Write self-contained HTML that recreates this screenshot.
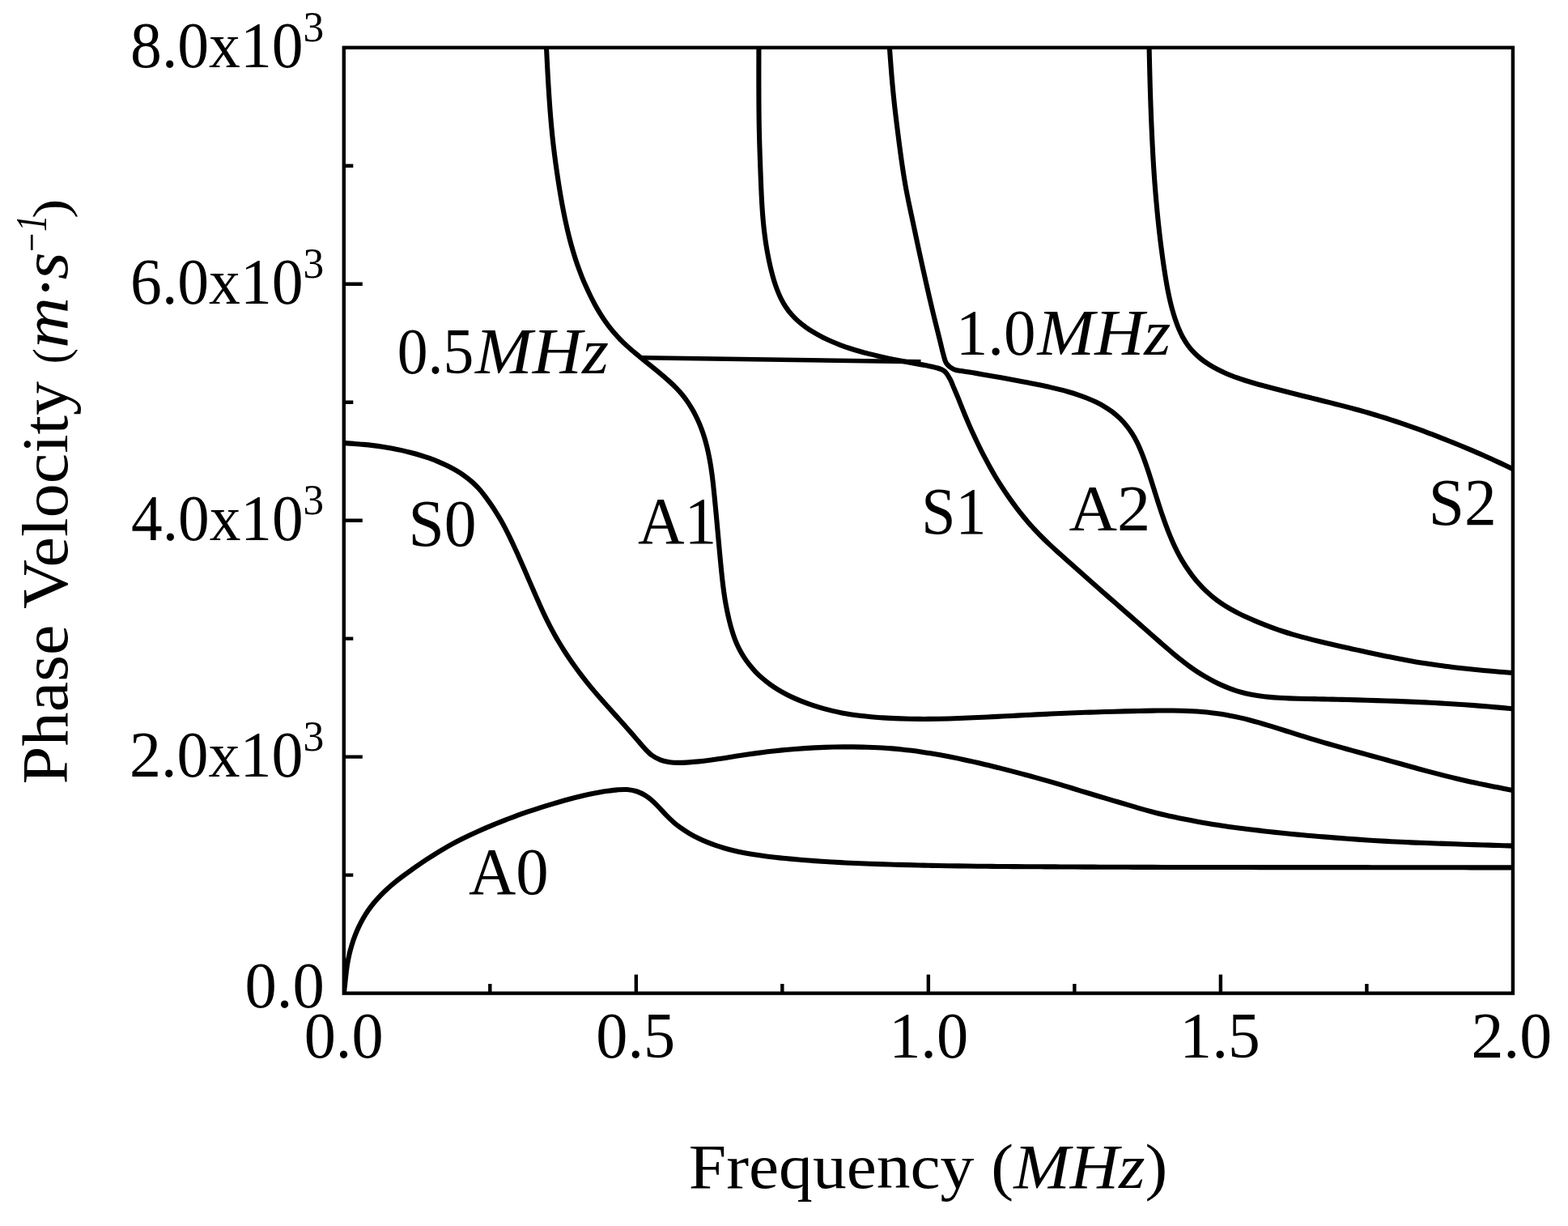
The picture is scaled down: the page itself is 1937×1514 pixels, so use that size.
<!DOCTYPE html>
<html lang="en">
<head>
<meta charset="utf-8">
<title>Phase velocity dispersion curves</title>
<style>
html,body{margin:0;padding:0;background:#fff;}
body{width:1937px;height:1514px;overflow:hidden;}
svg{display:block;}
text{font-family:'Liberation Serif', 'DejaVu Serif', serif;font-size:80px;fill:#000;white-space:pre;}
</style>
</head>
<body>
<svg width="1937" height="1514" viewBox="0 0 1937 1514">
<rect x="0" y="0" width="1937" height="1514" fill="#fff"/>
<defs><clipPath id="plot"><rect x="424.8" y="58.8" width="1444.1" height="1167.8"/></clipPath></defs>
<g clip-path="url(#plot)" fill="none" stroke="#000" stroke-width="6.1" stroke-linejoin="round" stroke-linecap="butt">
<path d="M424.9 1226.6C425.34 1222.61 425.78 1218.63 426.21 1214.64C426.65 1210.66 427.04 1206.67 427.52 1202.69C428 1198.71 428.46 1194.72 429.1 1190.77C429.75 1186.81 430.49 1182.86 431.39 1178.96C432.29 1175.06 433.32 1171.17 434.49 1167.34C435.65 1163.51 436.94 1159.7 438.37 1155.96C439.79 1152.22 441.34 1148.5 443.04 1144.88C444.74 1141.25 446.58 1137.68 448.57 1134.21C450.57 1130.73 452.71 1127.33 454.99 1124.04C457.27 1120.75 459.71 1117.54 462.26 1114.46C464.81 1111.37 467.51 1108.39 470.29 1105.51C473.07 1102.62 475.98 1099.85 478.94 1097.16C481.91 1094.47 484.98 1091.88 488.09 1089.35C491.19 1086.82 494.38 1084.38 497.59 1081.97C500.79 1079.57 504.06 1077.23 507.32 1074.91C510.59 1072.59 513.88 1070.29 517.19 1068.03C520.49 1065.76 523.81 1063.51 527.16 1061.3C530.51 1059.1 533.87 1056.92 537.28 1054.8C540.68 1052.68 544.1 1050.59 547.56 1048.57C551.02 1046.54 554.51 1044.57 558.04 1042.66C561.56 1040.74 565.12 1038.89 568.69 1037.08C572.27 1035.27 575.87 1033.51 579.49 1031.79C583.11 1030.07 586.75 1028.39 590.41 1026.74C594.06 1025.09 597.73 1023.48 601.42 1021.9C605.1 1020.32 608.8 1018.77 612.51 1017.25C616.22 1015.74 619.95 1014.25 623.68 1012.8C627.42 1011.35 631.17 1009.92 634.93 1008.53C638.69 1007.14 642.46 1005.79 646.25 1004.46C650.03 1003.13 653.82 1001.83 657.63 1000.57C661.43 999.3 665.25 998.07 669.07 996.87C672.89 995.66 676.73 994.49 680.57 993.34C684.41 992.19 688.26 991.07 692.12 989.98C695.97 988.88 699.84 987.81 703.71 986.78C707.59 985.76 711.47 984.75 715.37 983.81C719.26 982.86 723.16 981.94 727.08 981.09C731 980.24 734.93 979.43 738.87 978.7C742.81 977.98 746.77 977.3 750.73 976.74C754.7 976.18 758.68 975.62 762.68 975.34C766.67 975.06 770.72 974.74 774.69 975.06C778.66 975.39 782.71 976.04 786.48 977.27C790.25 978.5 793.92 980.35 797.3 982.44C800.69 984.53 803.78 987.18 806.78 989.82C809.78 992.47 812.5 995.44 815.29 998.32C818.07 1001.21 820.65 1004.28 823.47 1007.14C826.28 1009.99 829.12 1012.84 832.15 1015.45C835.18 1018.07 838.37 1020.52 841.64 1022.84C844.9 1025.15 848.29 1027.31 851.74 1029.35C855.19 1031.38 858.74 1033.28 862.34 1035.04C865.93 1036.81 869.61 1038.42 873.32 1039.94C877.03 1041.46 880.79 1042.84 884.59 1044.14C888.38 1045.44 892.21 1046.62 896.07 1047.72C899.92 1048.82 903.81 1049.81 907.71 1050.73C911.61 1051.66 915.54 1052.48 919.47 1053.25C923.41 1054.02 927.36 1054.7 931.32 1055.33C935.27 1055.97 939.25 1056.53 943.22 1057.06C947.19 1057.59 951.17 1058.06 955.16 1058.52C959.14 1058.97 963.13 1059.38 967.12 1059.78C971.11 1060.18 975.1 1060.55 979.09 1060.91C983.09 1061.27 987.08 1061.61 991.08 1061.93C995.07 1062.25 999.07 1062.56 1003.07 1062.86C1007.07 1063.15 1011.07 1063.43 1015.07 1063.7C1019.07 1063.97 1023.07 1064.22 1027.07 1064.46C1031.07 1064.7 1035.07 1064.93 1039.08 1065.14C1043.08 1065.36 1047.09 1065.56 1051.09 1065.74C1055.09 1065.93 1059.1 1066.1 1063.11 1066.27C1067.11 1066.43 1071.12 1066.58 1075.13 1066.73C1079.13 1066.87 1083.14 1067 1087.15 1067.13C1091.15 1067.26 1095.16 1067.38 1099.17 1067.5C1103.18 1067.62 1107.18 1067.73 1111.19 1067.84C1115.2 1067.95 1119.21 1068.06 1123.21 1068.17C1127.22 1068.27 1131.23 1068.37 1135.24 1068.47C1139.25 1068.57 1143.25 1068.66 1147.26 1068.75C1151.27 1068.83 1155.28 1068.92 1159.29 1068.99C1163.29 1069.07 1167.3 1069.14 1171.31 1069.21C1175.32 1069.27 1179.33 1069.33 1183.34 1069.39C1187.35 1069.45 1191.36 1069.5 1195.36 1069.55C1199.37 1069.6 1203.38 1069.65 1207.39 1069.69C1211.4 1069.74 1215.41 1069.78 1219.42 1069.82C1223.43 1069.86 1227.44 1069.89 1231.45 1069.93C1235.45 1069.96 1239.46 1069.99 1243.47 1070.02C1247.48 1070.06 1251.49 1070.08 1255.5 1070.11C1259.51 1070.14 1263.52 1070.17 1267.53 1070.19C1271.54 1070.22 1275.54 1070.24 1279.55 1070.27C1283.56 1070.29 1287.57 1070.31 1291.58 1070.34C1295.59 1070.36 1299.6 1070.38 1303.61 1070.4C1307.62 1070.42 1311.63 1070.45 1315.64 1070.47C1319.64 1070.49 1323.65 1070.51 1327.66 1070.53C1331.67 1070.55 1335.68 1070.57 1339.69 1070.59C1343.7 1070.61 1347.71 1070.63 1351.72 1070.65C1355.73 1070.67 1359.74 1070.68 1363.75 1070.7C1367.75 1070.72 1371.76 1070.74 1375.77 1070.75C1379.78 1070.77 1383.79 1070.78 1387.8 1070.8C1391.81 1070.81 1395.82 1070.83 1399.83 1070.84C1403.84 1070.85 1407.85 1070.86 1411.86 1070.88C1415.86 1070.89 1419.87 1070.9 1423.88 1070.91C1427.89 1070.92 1431.9 1070.93 1435.91 1070.94C1439.92 1070.94 1443.93 1070.95 1447.94 1070.96C1451.95 1070.97 1455.96 1070.98 1459.96 1070.98C1463.97 1070.99 1467.98 1071 1471.99 1071C1476 1071.01 1480.01 1071.01 1484.02 1071.02C1488.03 1071.02 1492.04 1071.03 1496.05 1071.03C1500.06 1071.03 1504.07 1071.04 1508.07 1071.04C1512.08 1071.05 1516.09 1071.05 1520.1 1071.05C1524.11 1071.06 1528.12 1071.06 1532.13 1071.06C1536.14 1071.06 1540.15 1071.07 1544.16 1071.07C1548.17 1071.07 1552.18 1071.07 1556.18 1071.08C1560.19 1071.08 1564.2 1071.08 1568.21 1071.08C1572.22 1071.08 1576.23 1071.09 1580.24 1071.09C1584.25 1071.09 1588.26 1071.09 1592.27 1071.1C1596.28 1071.1 1600.29 1071.1 1604.29 1071.1C1608.3 1071.11 1612.31 1071.11 1616.32 1071.11C1620.33 1071.11 1624.34 1071.12 1628.35 1071.12C1632.36 1071.12 1636.37 1071.13 1640.38 1071.13C1644.39 1071.13 1648.4 1071.14 1652.41 1071.14C1656.41 1071.14 1660.42 1071.15 1664.43 1071.15C1668.44 1071.16 1672.45 1071.16 1676.46 1071.16C1680.47 1071.17 1684.48 1071.17 1688.49 1071.17C1692.5 1071.18 1696.51 1071.18 1700.52 1071.19C1704.52 1071.19 1708.53 1071.2 1712.54 1071.2C1716.55 1071.21 1720.56 1071.21 1724.57 1071.21C1728.58 1071.22 1732.59 1071.22 1736.6 1071.23C1740.61 1071.23 1744.62 1071.24 1748.63 1071.24C1752.63 1071.25 1756.64 1071.25 1760.65 1071.26C1764.66 1071.26 1768.67 1071.27 1772.68 1071.27C1776.69 1071.28 1780.7 1071.28 1784.71 1071.29C1788.72 1071.29 1792.73 1071.3 1796.74 1071.3C1800.74 1071.31 1804.75 1071.31 1808.76 1071.32C1812.77 1071.32 1816.78 1071.33 1820.79 1071.34C1824.8 1071.34 1828.81 1071.35 1832.82 1071.35C1836.83 1071.36 1840.84 1071.36 1844.85 1071.37C1848.85 1071.37 1852.86 1071.38 1856.87 1071.38C1860.88 1071.39 1864.89 1071.39 1868.9 1071.4"/>
<path d="M424.8 547.1C428.79 547.37 432.78 547.62 436.77 547.91C440.75 548.21 444.74 548.51 448.72 548.88C452.7 549.25 456.68 549.66 460.65 550.14C464.62 550.61 468.59 551.14 472.54 551.74C476.49 552.34 480.44 553.01 484.37 553.74C488.3 554.47 492.22 555.27 496.12 556.14C500.02 557.01 503.91 557.94 507.78 558.95C511.65 559.96 515.5 561.04 519.32 562.21C523.14 563.38 526.94 564.63 530.71 565.98C534.47 567.33 538.21 568.77 541.89 570.32C545.57 571.87 549.23 573.5 552.81 575.27C556.39 577.04 559.94 578.91 563.38 580.94C566.82 582.97 570.21 585.12 573.45 587.45C576.7 589.77 579.86 592.25 582.85 594.89C585.84 597.53 588.7 600.35 591.4 603.3C594.1 606.24 596.61 609.37 599.04 612.54C601.47 615.71 603.73 619.02 605.99 622.31C608.25 625.61 610.49 628.93 612.62 632.31C614.76 635.69 616.81 639.12 618.8 642.59C620.78 646.06 622.67 649.59 624.52 653.13C626.38 656.67 628.16 660.25 629.92 663.84C631.67 667.43 633.37 671.05 635.05 674.68C636.73 678.31 638.37 681.96 640 685.61C641.63 689.26 643.24 692.92 644.84 696.58C646.45 700.25 648.04 703.92 649.63 707.58C651.22 711.25 652.81 714.92 654.4 718.59C655.99 722.26 657.58 725.93 659.18 729.59C660.77 733.26 662.36 736.93 663.98 740.59C665.59 744.24 667.21 747.9 668.87 751.53C670.54 755.17 672.23 758.79 673.98 762.39C675.72 765.99 677.52 769.56 679.36 773.11C681.21 776.65 683.1 780.18 685.05 783.67C687 787.16 689 790.62 691.06 794.05C693.11 797.48 695.23 800.88 697.38 804.24C699.54 807.61 701.75 810.94 704.01 814.24C706.26 817.54 708.56 820.81 710.9 824.05C713.25 827.29 715.63 830.5 718.05 833.68C720.48 836.86 722.94 840.02 725.44 843.13C727.95 846.25 730.5 849.33 733.07 852.39C735.65 855.45 738.27 858.47 740.9 861.48C743.53 864.49 746.19 867.47 748.85 870.46C751.51 873.44 754.2 876.41 756.87 879.38C759.54 882.35 762.23 885.32 764.9 888.29C767.57 891.27 770.24 894.24 772.9 897.23C775.55 900.22 778.2 903.22 780.81 906.24C783.43 909.27 785.98 912.35 788.6 915.37C791.21 918.39 793.74 921.51 796.51 924.38C799.28 927.26 802.01 930.28 805.21 932.62C808.4 934.96 811.99 936.98 815.66 938.41C819.35 939.84 823.37 940.63 827.3 941.21C831.24 941.78 835.28 941.82 839.27 941.85C843.27 941.87 847.27 941.61 851.26 941.35C855.24 941.1 859.23 940.73 863.21 940.34C867.19 939.94 871.16 939.49 875.13 938.99C879.09 938.5 883.05 937.93 887.01 937.35C890.96 936.77 894.91 936.12 898.86 935.49C902.81 934.87 906.75 934.21 910.7 933.59C914.65 932.97 918.6 932.37 922.56 931.79C926.52 931.21 930.48 930.65 934.44 930.11C938.4 929.58 942.37 929.07 946.34 928.58C950.3 928.1 954.28 927.64 958.25 927.21C962.23 926.78 966.2 926.37 970.18 926C974.17 925.62 978.15 925.27 982.13 924.96C986.12 924.64 990.11 924.35 994.1 924.09C998.09 923.83 1002.08 923.59 1006.07 923.39C1010.07 923.19 1014.06 923.02 1018.06 922.88C1022.05 922.73 1026.05 922.62 1030.05 922.53C1034.04 922.45 1038.04 922.4 1042.04 922.37C1046.04 922.35 1050.04 922.35 1054.04 922.39C1058.03 922.42 1062.03 922.48 1066.03 922.58C1070.03 922.67 1074.02 922.8 1078.02 922.96C1082.01 923.12 1086.01 923.31 1090 923.55C1093.99 923.79 1097.98 924.06 1101.97 924.38C1105.95 924.7 1109.93 925.06 1113.91 925.46C1117.89 925.87 1121.86 926.32 1125.83 926.81C1129.8 927.3 1133.76 927.83 1137.72 928.4C1141.68 928.97 1145.63 929.58 1149.57 930.23C1153.52 930.87 1157.46 931.55 1161.39 932.26C1165.33 932.97 1169.26 933.72 1173.18 934.49C1177.1 935.26 1181.02 936.06 1184.94 936.88C1188.85 937.71 1192.75 938.56 1196.66 939.42C1200.56 940.29 1204.46 941.18 1208.35 942.08C1212.25 942.99 1216.14 943.91 1220.03 944.84C1223.92 945.78 1227.8 946.73 1231.68 947.69C1235.56 948.66 1239.44 949.64 1243.31 950.63C1247.18 951.62 1251.05 952.62 1254.92 953.64C1258.79 954.65 1262.65 955.68 1266.51 956.72C1270.38 957.76 1274.23 958.81 1278.09 959.87C1281.94 960.93 1285.79 962.01 1289.64 963.1C1293.49 964.19 1297.33 965.29 1301.17 966.41C1305.01 967.53 1308.84 968.67 1312.67 969.81C1316.5 970.96 1320.33 972.13 1324.15 973.29C1327.98 974.46 1331.8 975.64 1335.62 976.8C1339.45 977.97 1343.27 979.13 1347.1 980.29C1350.93 981.44 1354.76 982.59 1358.59 983.73C1362.42 984.87 1366.26 986 1370.09 987.14C1373.92 988.27 1377.76 989.4 1381.59 990.53C1385.43 991.67 1389.26 992.81 1393.09 993.94C1396.93 995.08 1400.76 996.22 1404.6 997.33C1408.44 998.44 1412.28 999.55 1416.14 1000.61C1420 1001.67 1423.86 1002.7 1427.73 1003.68C1431.61 1004.66 1435.5 1005.59 1439.39 1006.49C1443.29 1007.4 1447.2 1008.25 1451.11 1009.09C1455.02 1009.92 1458.93 1010.72 1462.85 1011.51C1466.77 1012.29 1470.7 1013.06 1474.63 1013.8C1478.56 1014.54 1482.49 1015.27 1486.43 1015.96C1490.36 1016.65 1494.31 1017.33 1498.25 1017.97C1502.2 1018.61 1506.15 1019.22 1510.11 1019.8C1514.06 1020.39 1518.02 1020.95 1521.98 1021.49C1525.94 1022.03 1529.91 1022.54 1533.88 1023.05C1537.84 1023.55 1541.81 1024.03 1545.78 1024.51C1549.75 1024.99 1553.72 1025.45 1557.7 1025.9C1561.67 1026.36 1565.64 1026.8 1569.62 1027.24C1573.59 1027.67 1577.57 1028.09 1581.54 1028.51C1585.52 1028.92 1589.5 1029.32 1593.48 1029.71C1597.46 1030.1 1601.44 1030.48 1605.42 1030.85C1609.4 1031.22 1613.38 1031.57 1617.37 1031.92C1621.35 1032.27 1625.33 1032.61 1629.32 1032.94C1633.3 1033.27 1637.29 1033.6 1641.27 1033.91C1645.26 1034.23 1649.25 1034.54 1653.23 1034.85C1657.22 1035.16 1661.21 1035.46 1665.19 1035.75C1669.18 1036.04 1673.17 1036.33 1677.16 1036.61C1681.15 1036.89 1685.14 1037.16 1689.13 1037.42C1693.12 1037.69 1697.11 1037.94 1701.1 1038.18C1705.09 1038.42 1709.08 1038.66 1713.07 1038.88C1717.06 1039.1 1721.06 1039.31 1725.05 1039.5C1729.04 1039.7 1733.04 1039.89 1737.03 1040.07C1741.03 1040.25 1745.02 1040.42 1749.02 1040.59C1753.01 1040.75 1757.01 1040.91 1761 1041.06C1765 1041.21 1768.99 1041.36 1772.99 1041.5C1776.98 1041.64 1780.98 1041.78 1784.98 1041.92C1788.97 1042.06 1792.97 1042.19 1796.97 1042.32C1800.96 1042.46 1804.96 1042.59 1808.95 1042.72C1812.95 1042.85 1816.95 1042.98 1820.94 1043.1C1824.94 1043.23 1828.94 1043.36 1832.93 1043.48C1836.93 1043.61 1840.92 1043.73 1844.92 1043.86C1848.92 1043.98 1852.91 1044.11 1856.91 1044.23C1860.91 1044.35 1864.9 1044.48 1868.9 1044.6"/>
<path d="M675 58.8C675.2 62.8 675.39 66.81 675.59 70.81C675.79 74.82 675.99 78.82 676.2 82.82C676.41 86.83 676.62 90.83 676.85 94.83C677.07 98.83 677.3 102.84 677.55 106.84C677.79 110.84 678.04 114.84 678.31 118.84C678.57 122.84 678.85 126.84 679.14 130.84C679.43 134.84 679.74 138.83 680.06 142.83C680.38 146.83 680.72 150.82 681.08 154.81C681.44 158.81 681.82 162.8 682.23 166.78C682.64 170.77 683.08 174.76 683.53 178.74C683.99 182.72 684.48 186.7 684.99 190.68C685.49 194.66 686.02 198.63 686.57 202.6C687.12 206.57 687.68 210.54 688.27 214.51C688.85 218.47 689.45 222.44 690.07 226.4C690.69 230.36 691.33 234.32 691.99 238.27C692.65 242.22 693.33 246.18 694.04 250.12C694.76 254.06 695.49 258.01 696.27 261.94C697.04 265.87 697.85 269.8 698.69 273.72C699.54 277.64 700.41 281.55 701.34 285.45C702.27 289.35 703.23 293.24 704.25 297.12C705.27 300.99 706.34 304.86 707.46 308.71C708.59 312.55 709.77 316.39 711.01 320.2C712.25 324.01 713.55 327.8 714.92 331.57C716.29 335.34 717.72 339.08 719.23 342.8C720.73 346.51 722.31 350.2 723.95 353.86C725.58 357.52 727.28 361.15 729.04 364.75C730.81 368.35 732.63 371.93 734.55 375.45C736.46 378.97 738.44 382.46 740.53 385.88C742.62 389.3 744.79 392.67 747.08 395.96C749.37 399.25 751.76 402.48 754.26 405.61C756.75 408.74 759.36 411.8 762.06 414.76C764.76 417.72 767.56 420.59 770.44 423.38C773.32 426.17 776.31 428.85 779.33 431.48C782.34 434.12 785.45 436.65 788.55 439.2C791.64 441.75 794.78 444.24 797.89 446.77C801.01 449.3 804.12 451.82 807.22 454.36C810.32 456.91 813.42 459.45 816.48 462.04C819.55 464.62 822.64 467.18 825.62 469.86C828.6 472.53 831.56 475.24 834.37 478.1C837.17 480.96 839.9 483.92 842.45 487.01C844.99 490.1 847.39 493.32 849.65 496.63C851.9 499.94 853.99 503.38 855.96 506.87C857.93 510.36 859.74 513.94 861.44 517.57C863.14 521.19 864.72 524.89 866.16 528.63C867.6 532.37 868.9 536.17 870.08 540C871.26 543.82 872.29 547.7 873.25 551.59C874.21 555.48 875.07 559.4 875.86 563.33C876.65 567.26 877.35 571.21 878 575.17C878.64 579.12 879.19 583.1 879.72 587.07C880.24 591.04 880.69 595.03 881.14 599.01C881.58 603 881.98 606.99 882.38 610.97C882.78 614.96 883.16 618.95 883.54 622.94C883.93 626.94 884.31 630.93 884.68 634.92C885.05 638.91 885.42 642.9 885.78 646.89C886.15 650.89 886.51 654.88 886.87 658.87C887.23 662.86 887.59 666.86 887.95 670.85C888.31 674.84 888.67 678.83 889.04 682.83C889.41 686.82 889.78 690.81 890.17 694.8C890.55 698.79 890.94 702.78 891.35 706.77C891.77 710.75 892.19 714.74 892.66 718.72C893.12 722.7 893.61 726.69 894.16 730.65C894.72 734.62 895.31 738.59 895.99 742.54C896.67 746.49 897.41 750.43 898.22 754.36C899.03 758.28 899.89 762.2 900.84 766.1C901.79 769.99 902.79 773.88 903.94 777.72C905.08 781.55 906.3 785.39 907.73 789.12C909.16 792.86 910.73 796.57 912.52 800.15C914.31 803.73 916.3 807.23 918.45 810.61C920.59 813.99 922.93 817.27 925.39 820.42C927.86 823.57 930.49 826.62 933.26 829.52C936.02 832.41 938.94 835.18 941.96 837.8C944.99 840.42 948.16 842.9 951.41 845.24C954.66 847.58 958.03 849.78 961.45 851.85C964.88 853.93 968.4 855.86 971.96 857.69C975.53 859.52 979.17 861.22 982.83 862.84C986.5 864.46 990.22 865.97 993.96 867.39C997.71 868.82 1001.49 870.15 1005.3 871.39C1009.11 872.64 1012.95 873.8 1016.81 874.88C1020.67 875.97 1024.55 876.97 1028.46 877.89C1032.36 878.81 1036.28 879.65 1040.21 880.41C1044.15 881.16 1048.1 881.84 1052.07 882.44C1056.03 883.05 1060.01 883.57 1063.99 884.03C1067.97 884.5 1071.96 884.89 1075.95 885.25C1079.94 885.61 1083.94 885.91 1087.94 886.18C1091.94 886.45 1095.94 886.68 1099.95 886.89C1103.95 887.09 1107.96 887.26 1111.96 887.41C1115.97 887.55 1119.98 887.67 1123.98 887.75C1127.99 887.84 1132 887.89 1136.01 887.92C1140.02 887.95 1144.03 887.94 1148.04 887.91C1152.04 887.88 1156.05 887.82 1160.06 887.74C1164.07 887.66 1168.08 887.56 1172.08 887.44C1176.09 887.32 1180.1 887.19 1184.1 887.04C1188.11 886.89 1192.12 886.73 1196.12 886.56C1200.13 886.39 1204.13 886.21 1208.14 886.03C1212.14 885.84 1216.14 885.65 1220.15 885.45C1224.15 885.26 1228.16 885.05 1232.16 884.85C1236.16 884.65 1240.17 884.45 1244.17 884.24C1248.17 884.04 1252.18 883.84 1256.18 883.63C1260.19 883.43 1264.19 883.23 1268.19 883.02C1272.2 882.82 1276.2 882.62 1280.2 882.42C1284.21 882.22 1288.21 882.03 1292.22 881.84C1296.22 881.64 1300.23 881.45 1304.23 881.27C1308.24 881.09 1312.24 880.91 1316.25 880.74C1320.25 880.57 1324.26 880.41 1328.26 880.26C1332.27 880.1 1336.27 879.96 1340.28 879.82C1344.29 879.68 1348.29 879.55 1352.3 879.43C1356.31 879.3 1360.32 879.19 1364.32 879.07C1368.33 878.96 1372.34 878.85 1376.34 878.74C1380.35 878.63 1384.36 878.52 1388.37 878.42C1392.37 878.31 1396.38 878.2 1400.39 878.1C1404.4 878.01 1408.4 877.91 1412.41 877.83C1416.42 877.75 1420.43 877.67 1424.44 877.62C1428.45 877.56 1432.45 877.52 1436.46 877.5C1440.47 877.49 1444.48 877.49 1448.49 877.53C1452.5 877.58 1456.51 877.64 1460.51 877.76C1464.52 877.88 1468.53 878.03 1472.53 878.24C1476.53 878.45 1480.54 878.71 1484.53 879.04C1488.52 879.37 1492.52 879.75 1496.5 880.22C1500.48 880.69 1504.45 881.23 1508.41 881.84C1512.37 882.46 1516.32 883.16 1520.26 883.92C1524.19 884.68 1528.12 885.51 1532.03 886.4C1535.93 887.3 1539.83 888.26 1543.71 889.26C1547.59 890.27 1551.45 891.34 1555.31 892.43C1559.16 893.53 1563.01 894.67 1566.84 895.83C1570.68 896.99 1574.51 898.18 1578.34 899.38C1582.16 900.57 1585.98 901.79 1589.81 902.99C1593.63 904.2 1597.45 905.42 1601.27 906.62C1605.1 907.82 1608.92 909.02 1612.76 910.2C1616.59 911.37 1620.43 912.53 1624.27 913.67C1628.11 914.82 1631.96 915.94 1635.81 917.06C1639.66 918.17 1643.52 919.27 1647.37 920.36C1651.23 921.46 1655.09 922.54 1658.95 923.61C1662.81 924.69 1666.68 925.76 1670.54 926.83C1674.4 927.89 1678.27 928.96 1682.14 930.02C1686 931.08 1689.87 932.14 1693.73 933.2C1697.6 934.26 1701.47 935.32 1705.33 936.38C1709.2 937.45 1713.06 938.51 1716.92 939.58C1720.79 940.65 1724.65 941.73 1728.51 942.8C1732.38 943.87 1736.24 944.94 1740.1 946.01C1743.97 947.08 1747.83 948.14 1751.7 949.19C1755.57 950.25 1759.44 951.3 1763.31 952.33C1767.19 953.36 1771.06 954.39 1774.94 955.39C1778.82 956.4 1782.71 957.39 1786.6 958.37C1790.48 959.34 1794.38 960.3 1798.28 961.23C1802.17 962.16 1806.08 963.08 1809.99 963.97C1813.9 964.86 1817.81 965.72 1821.73 966.56C1825.65 967.41 1829.57 968.23 1833.5 969.03C1837.43 969.84 1841.36 970.63 1845.29 971.41C1849.22 972.19 1853.16 972.96 1857.09 973.72C1861.03 974.49 1864.96 975.24 1868.9 976"/>
<path d="M937.4 58.8C937.39 62.81 937.39 66.82 937.38 70.83C937.38 74.84 937.37 78.85 937.37 82.86C937.37 86.87 937.36 90.88 937.36 94.89C937.37 98.9 937.37 102.91 937.37 106.92C937.38 110.93 937.39 114.95 937.4 118.96C937.42 122.97 937.44 126.98 937.47 130.99C937.5 135 937.53 139.01 937.58 143.02C937.63 147.03 937.69 151.04 937.76 155.05C937.84 159.06 937.92 163.07 938.02 167.08C938.11 171.08 938.22 175.09 938.34 179.1C938.46 183.11 938.59 187.12 938.73 191.13C938.86 195.14 939 199.14 939.15 203.15C939.29 207.16 939.44 211.17 939.59 215.17C939.74 219.18 939.89 223.19 940.05 227.2C940.22 231.2 940.38 235.21 940.57 239.22C940.76 243.22 940.96 247.23 941.19 251.23C941.43 255.23 941.69 259.24 941.99 263.24C942.29 267.23 942.62 271.23 943.01 275.22C943.39 279.21 943.81 283.2 944.3 287.18C944.78 291.17 945.31 295.14 945.9 299.11C946.5 303.07 947.15 307.03 947.86 310.98C948.57 314.92 949.35 318.86 950.19 322.78C951.02 326.7 951.9 330.62 952.88 334.51C953.86 338.39 954.88 342.28 956.05 346.11C957.22 349.94 958.47 353.76 959.92 357.5C961.36 361.24 962.91 364.95 964.7 368.53C966.49 372.11 968.45 375.64 970.66 378.98C972.86 382.31 975.3 385.54 977.94 388.54C980.58 391.54 983.49 394.35 986.49 396.99C989.5 399.63 992.71 402.07 995.98 404.39C999.24 406.71 1002.64 408.86 1006.08 410.91C1009.52 412.96 1013.06 414.88 1016.63 416.69C1020.21 418.5 1023.85 420.19 1027.53 421.79C1031.2 423.39 1034.93 424.87 1038.69 426.27C1042.44 427.68 1046.24 428.99 1050.05 430.23C1053.86 431.47 1057.71 432.62 1061.56 433.72C1065.42 434.82 1069.3 435.83 1073.19 436.83C1077.07 437.82 1080.97 438.76 1084.87 439.68C1088.78 440.6 1092.69 441.49 1096.6 442.35C1100.52 443.21 1104.44 444.05 1108.37 444.84C1112.31 445.63 1116.25 446.38 1120.19 447.11C1124.13 447.84 1128.09 448.52 1132.03 449.23C1135.98 449.93 1139.94 450.58 1143.88 451.34C1147.81 452.1 1151.84 452.61 1155.65 453.79C1159.44 454.96 1163.7 455.98 1166.69 458.37C1169.66 460.75 1171.62 464.64 1173.56 468.08C1175.52 471.55 1176.78 475.43 1178.36 479.11C1179.94 482.79 1181.53 486.48 1183.06 490.19C1184.59 493.89 1186.05 497.63 1187.55 501.35C1189.05 505.07 1190.52 508.8 1192.05 512.5C1193.59 516.21 1195.14 519.91 1196.73 523.59C1198.33 527.27 1199.95 530.93 1201.62 534.58C1203.29 538.23 1205 541.85 1206.74 545.47C1208.48 549.08 1210.26 552.68 1212.06 556.26C1213.87 559.84 1215.7 563.41 1217.57 566.95C1219.44 570.5 1221.34 574.03 1223.3 577.53C1225.25 581.04 1227.24 584.52 1229.29 587.96C1231.34 591.41 1233.44 594.83 1235.59 598.21C1237.74 601.6 1239.95 604.95 1242.2 608.27C1244.45 611.59 1246.75 614.87 1249.09 618.13C1251.43 621.38 1253.82 624.61 1256.25 627.8C1258.68 630.99 1261.15 634.15 1263.67 637.27C1266.2 640.38 1268.76 643.47 1271.4 646.49C1274.03 649.51 1276.72 652.49 1279.47 655.41C1282.21 658.33 1285.02 661.2 1287.87 664.02C1290.71 666.85 1293.62 669.62 1296.53 672.37C1299.45 675.12 1302.41 677.82 1305.38 680.52C1308.34 683.22 1311.33 685.89 1314.32 688.57C1317.31 691.24 1320.31 693.91 1323.31 696.57C1326.31 699.23 1329.31 701.89 1332.31 704.55C1335.32 707.21 1338.32 709.86 1341.33 712.52C1344.33 715.17 1347.34 717.83 1350.35 720.48C1353.36 723.13 1356.36 725.78 1359.37 728.43C1362.39 731.08 1365.4 733.73 1368.41 736.38C1371.42 739.02 1374.44 741.66 1377.46 744.31C1380.47 746.95 1383.49 749.59 1386.51 752.23C1389.53 754.87 1392.55 757.51 1395.57 760.15C1398.58 762.79 1401.6 765.43 1404.62 768.07C1407.64 770.71 1410.66 773.36 1413.67 776C1416.68 778.65 1419.7 781.3 1422.71 783.95C1425.72 786.59 1428.72 789.25 1431.74 791.89C1434.75 794.54 1437.77 797.19 1440.8 799.81C1443.84 802.43 1446.88 805.04 1449.95 807.62C1453.03 810.19 1456.12 812.75 1459.26 815.23C1462.41 817.72 1465.59 820.17 1468.83 822.53C1472.08 824.88 1475.38 827.16 1478.74 829.35C1482.1 831.53 1485.52 833.63 1488.99 835.65C1492.46 837.66 1495.97 839.6 1499.54 841.43C1503.11 843.26 1506.72 845.01 1510.39 846.62C1514.06 848.23 1517.79 849.73 1521.56 851.09C1525.33 852.44 1529.16 853.66 1533.02 854.72C1536.89 855.79 1540.8 856.69 1544.73 857.48C1548.66 858.28 1552.63 858.92 1556.59 859.48C1560.56 860.05 1564.55 860.49 1568.54 860.88C1572.53 861.27 1576.54 861.56 1580.54 861.81C1584.54 862.06 1588.55 862.24 1592.55 862.4C1596.56 862.56 1600.57 862.67 1604.58 862.77C1608.59 862.88 1612.6 862.95 1616.61 863.02C1620.62 863.1 1624.63 863.16 1628.64 863.23C1632.65 863.31 1636.66 863.38 1640.67 863.46C1644.68 863.55 1648.68 863.64 1652.69 863.73C1656.7 863.83 1660.71 863.93 1664.72 864.03C1668.73 864.14 1672.74 864.25 1676.75 864.36C1680.76 864.47 1684.77 864.59 1688.77 864.71C1692.78 864.83 1696.79 864.95 1700.8 865.08C1704.81 865.21 1708.82 865.34 1712.82 865.48C1716.83 865.62 1720.84 865.76 1724.85 865.91C1728.85 866.05 1732.86 866.21 1736.87 866.36C1740.88 866.52 1744.88 866.69 1748.89 866.87C1752.9 867.04 1756.9 867.22 1760.91 867.42C1764.91 867.61 1768.92 867.81 1772.92 868.03C1776.93 868.24 1780.93 868.47 1784.94 868.7C1788.94 868.94 1792.94 869.19 1796.94 869.45C1800.95 869.7 1804.95 869.98 1808.95 870.26C1812.95 870.54 1816.95 870.84 1820.95 871.15C1824.95 871.46 1828.94 871.78 1832.94 872.1C1836.94 872.43 1840.93 872.77 1844.93 873.11C1848.92 873.45 1852.92 873.8 1856.92 874.15C1860.91 874.49 1864.91 874.85 1868.9 875.2"/>
<path d="M1098.9 58.8C1099.19 62.8 1099.47 66.81 1099.76 70.81C1100.06 74.81 1100.35 78.81 1100.66 82.81C1100.97 86.81 1101.29 90.81 1101.62 94.81C1101.96 98.81 1102.31 102.81 1102.68 106.8C1103.06 110.8 1103.44 114.79 1103.85 118.79C1104.26 122.78 1104.68 126.77 1105.12 130.76C1105.56 134.75 1106.03 138.73 1106.5 142.72C1106.97 146.7 1107.46 150.68 1107.96 154.67C1108.46 158.65 1108.97 162.63 1109.48 166.61C1109.99 170.59 1110.5 174.57 1111.02 178.55C1111.54 182.53 1112.06 186.51 1112.6 190.48C1113.14 194.46 1113.69 198.43 1114.27 202.41C1114.84 206.38 1115.44 210.35 1116.06 214.31C1116.69 218.27 1117.33 222.23 1118.02 226.19C1118.71 230.14 1119.43 234.09 1120.18 238.03C1120.94 241.97 1121.74 245.9 1122.55 249.83C1123.36 253.77 1124.2 257.69 1125.03 261.61C1125.87 265.54 1126.72 269.46 1127.55 273.39C1128.39 277.31 1129.22 281.24 1130.05 285.16C1130.88 289.09 1131.7 293.02 1132.54 296.94C1133.37 300.87 1134.21 304.79 1135.06 308.71C1135.91 312.64 1136.77 316.56 1137.63 320.47C1138.49 324.39 1139.36 328.31 1140.24 332.23C1141.11 336.14 1141.99 340.06 1142.87 343.97C1143.75 347.89 1144.64 351.8 1145.52 355.72C1146.41 359.63 1147.3 363.54 1148.2 367.45C1149.1 371.36 1150.01 375.27 1150.93 379.18C1151.86 383.08 1152.8 386.98 1153.75 390.88C1154.7 394.78 1155.67 398.68 1156.64 402.57C1157.6 406.47 1158.58 410.36 1159.55 414.25C1160.51 418.15 1161.47 422.04 1162.43 425.94C1163.4 429.83 1164.19 433.78 1165.34 437.62C1166.5 441.45 1167.12 445.82 1169.37 448.94C1171.57 451.97 1175.1 454.6 1178.54 456.18C1182.07 457.81 1186.4 457.76 1190.35 458.45C1194.3 459.14 1198.28 459.68 1202.24 460.33C1206.2 460.99 1210.15 461.69 1214.11 462.38C1218.06 463.07 1222.01 463.78 1225.96 464.49C1229.91 465.19 1233.86 465.9 1237.81 466.62C1241.76 467.33 1245.7 468.05 1249.65 468.77C1253.6 469.5 1257.54 470.23 1261.49 470.97C1265.43 471.71 1269.37 472.46 1273.31 473.23C1277.25 474 1281.19 474.78 1285.12 475.59C1289.05 476.41 1292.97 477.23 1296.89 478.12C1300.8 479 1304.71 479.9 1308.6 480.88C1312.49 481.86 1316.38 482.89 1320.23 484.01C1324.08 485.13 1327.92 486.31 1331.72 487.6C1335.51 488.89 1339.29 490.26 1343.01 491.76C1346.73 493.26 1350.43 494.85 1354.03 496.61C1357.63 498.36 1361.2 500.23 1364.63 502.3C1368.06 504.38 1371.42 506.61 1374.6 509.04C1377.77 511.48 1380.83 514.12 1383.69 516.92C1386.55 519.72 1389.25 522.73 1391.76 525.85C1394.26 528.97 1396.59 532.27 1398.73 535.66C1400.86 539.04 1402.78 542.59 1404.58 546.17C1406.37 549.75 1407.95 553.45 1409.49 557.16C1411.03 560.86 1412.44 564.62 1413.81 568.39C1415.19 572.16 1416.48 575.96 1417.76 579.77C1419.03 583.57 1420.25 587.39 1421.47 591.22C1422.69 595.04 1423.88 598.87 1425.08 602.7C1426.28 606.53 1427.47 610.37 1428.68 614.19C1429.89 618.02 1431.1 621.84 1432.35 625.66C1433.59 629.47 1434.85 633.28 1436.16 637.07C1437.47 640.87 1438.8 644.65 1440.2 648.42C1441.59 652.18 1443.02 655.93 1444.54 659.65C1446.05 663.36 1447.61 667.06 1449.27 670.72C1450.93 674.37 1452.65 678 1454.49 681.56C1456.32 685.13 1458.24 688.66 1460.28 692.11C1462.33 695.56 1464.48 698.96 1466.74 702.27C1468.99 705.59 1471.36 708.84 1473.82 712.01C1476.28 715.17 1478.83 718.28 1481.51 721.26C1484.19 724.25 1486.99 727.14 1489.9 729.89C1492.81 732.65 1495.86 735.28 1498.98 737.79C1502.11 740.3 1505.34 742.69 1508.65 744.95C1511.96 747.22 1515.38 749.34 1518.84 751.37C1522.3 753.39 1525.85 755.28 1529.42 757.1C1533 758.92 1536.63 760.63 1540.28 762.29C1543.93 763.95 1547.63 765.53 1551.33 767.07C1555.03 768.62 1558.76 770.11 1562.5 771.57C1566.24 773.02 1569.99 774.45 1573.76 775.82C1577.53 777.18 1581.33 778.49 1585.14 779.75C1588.95 781 1592.78 782.2 1596.63 783.34C1600.47 784.49 1604.34 785.57 1608.21 786.61C1612.09 787.66 1615.98 788.65 1619.87 789.63C1623.76 790.61 1627.66 791.55 1631.56 792.49C1635.46 793.43 1639.37 794.36 1643.28 795.27C1647.18 796.18 1651.1 797.08 1655.01 797.96C1658.92 798.84 1662.84 799.71 1666.76 800.57C1670.68 801.43 1674.6 802.28 1678.53 803.12C1682.45 803.97 1686.37 804.82 1690.29 805.66C1694.22 806.51 1698.14 807.36 1702.06 808.2C1705.99 809.03 1709.91 809.87 1713.84 810.68C1717.77 811.49 1721.7 812.3 1725.64 813.07C1729.58 813.84 1733.52 814.6 1737.47 815.32C1741.42 816.04 1745.37 816.73 1749.33 817.4C1753.28 818.06 1757.25 818.69 1761.21 819.3C1765.18 819.91 1769.15 820.49 1773.12 821.05C1777.1 821.62 1781.07 822.15 1785.05 822.67C1789.03 823.19 1793.01 823.69 1797 824.17C1800.98 824.65 1804.97 825.11 1808.96 825.55C1812.95 825.99 1816.94 826.41 1820.93 826.82C1824.92 827.23 1828.91 827.62 1832.91 827.99C1836.91 828.36 1840.9 828.71 1844.9 829.06C1848.9 829.4 1852.9 829.72 1856.9 830.05C1860.9 830.37 1864.9 830.68 1868.9 831"/>
<path d="M1419.6 58.8C1419.69 62.82 1419.78 66.83 1419.87 70.85C1419.96 74.86 1420.05 78.88 1420.15 82.89C1420.24 86.91 1420.34 90.92 1420.45 94.94C1420.56 98.95 1420.67 102.97 1420.78 106.98C1420.9 111 1421.03 115.01 1421.16 119.03C1421.29 123.04 1421.42 127.05 1421.56 131.07C1421.71 135.08 1421.86 139.1 1422.01 143.11C1422.17 147.12 1422.33 151.14 1422.5 155.15C1422.67 159.16 1422.84 163.17 1423.03 167.19C1423.21 171.2 1423.4 175.21 1423.61 179.22C1423.81 183.23 1424.02 187.24 1424.25 191.25C1424.47 195.27 1424.7 199.27 1424.95 203.28C1425.2 207.29 1425.46 211.3 1425.73 215.31C1426.01 219.31 1426.3 223.32 1426.6 227.33C1426.91 231.33 1427.22 235.33 1427.56 239.34C1427.89 243.34 1428.24 247.34 1428.6 251.34C1428.96 255.34 1429.33 259.34 1429.72 263.34C1430.11 267.34 1430.52 271.33 1430.94 275.33C1431.36 279.32 1431.8 283.31 1432.26 287.3C1432.72 291.29 1433.2 295.28 1433.69 299.27C1434.19 303.25 1434.7 307.24 1435.23 311.22C1435.76 315.2 1436.3 319.18 1436.86 323.15C1437.43 327.13 1438.01 331.11 1438.63 335.07C1439.24 339.04 1439.88 343.01 1440.56 346.97C1441.24 350.93 1441.94 354.88 1442.71 358.82C1443.49 362.76 1444.3 366.7 1445.2 370.61C1446.11 374.52 1447.07 378.43 1448.15 382.3C1449.22 386.16 1450.37 390.02 1451.65 393.82C1452.92 397.63 1454.27 401.43 1455.81 405.13C1457.36 408.83 1459.01 412.51 1460.92 416.03C1462.83 419.55 1464.94 423.01 1467.29 426.25C1469.64 429.49 1472.24 432.6 1475.02 435.48C1477.81 438.36 1480.85 441.03 1483.99 443.51C1487.14 445.99 1490.5 448.24 1493.89 450.37C1497.29 452.5 1500.81 454.47 1504.37 456.32C1507.93 458.17 1511.58 459.87 1515.26 461.47C1518.94 463.07 1522.69 464.53 1526.45 465.92C1530.22 467.3 1534.04 468.56 1537.87 469.78C1541.69 470.99 1545.56 472.11 1549.42 473.21C1553.28 474.31 1557.16 475.34 1561.04 476.38C1564.92 477.42 1568.81 478.42 1572.7 479.44C1576.58 480.45 1580.47 481.46 1584.36 482.47C1588.25 483.48 1592.14 484.48 1596.03 485.47C1599.92 486.47 1603.81 487.45 1607.71 488.43C1611.6 489.41 1615.5 490.38 1619.4 491.35C1623.3 492.32 1627.19 493.29 1631.09 494.26C1634.99 495.23 1638.89 496.19 1642.79 497.16C1646.68 498.14 1650.58 499.11 1654.47 500.1C1658.36 501.09 1662.25 502.09 1666.14 503.12C1670.02 504.14 1673.9 505.18 1677.77 506.25C1681.64 507.32 1685.51 508.41 1689.37 509.53C1693.22 510.65 1697.07 511.79 1700.92 512.96C1704.76 514.13 1708.6 515.32 1712.42 516.53C1716.25 517.74 1720.08 518.98 1723.89 520.24C1727.7 521.5 1731.51 522.78 1735.31 524.08C1739.11 525.39 1742.9 526.72 1746.68 528.07C1750.46 529.43 1754.23 530.81 1758 532.21C1761.76 533.61 1765.52 535.03 1769.27 536.46C1773.02 537.9 1776.77 539.35 1780.51 540.81C1784.25 542.27 1787.98 543.75 1791.71 545.24C1795.44 546.73 1799.17 548.23 1802.88 549.75C1806.6 551.27 1810.31 552.81 1814.01 554.37C1817.71 555.93 1821.41 557.51 1825.09 559.11C1828.77 560.71 1832.45 562.34 1836.12 563.98C1839.78 565.62 1843.44 567.28 1847.09 568.95C1850.74 570.63 1854.37 572.34 1858.01 574.04C1861.64 575.75 1865.27 577.48 1868.9 579.2"/>
<path d="M792.8 441.8L1137.5 446.7" stroke-width="5.6"/>
</g>
<path d="M424.8 1080.62h11.5M424.8 934.65h23M424.8 788.67h11.5M424.8 642.7h23M424.8 496.72h11.5M424.8 350.75h23M424.8 204.77h11.5M605.31 1226.6v-11.5M785.83 1226.6v-23M966.34 1226.6v-11.5M1146.85 1226.6v-23M1327.36 1226.6v-11.5M1507.88 1226.6v-23M1688.39 1226.6v-11.5" fill="none" stroke="#000" stroke-width="4.4"/>
<rect x="424.8" y="58.8" width="1444.1" height="1167.8" fill="none" stroke="#000" stroke-width="4.4"/>
<g>
<text transform="translate(160.1 958.75) scale(0.9742 0.9971)">2.0x10<tspan dy="-32" font-size="53">3</tspan></text>
<text transform="translate(162.07 666.8) scale(0.9661 0.9971)">4.0x10<tspan dy="-32" font-size="53">3</tspan></text>
<text transform="translate(161.09 374.85) scale(0.9701 0.9971)">6.0x10<tspan dy="-32" font-size="53">3</tspan></text>
<text transform="translate(161.09 82.9) scale(0.9701 0.9971)">8.0x10<tspan dy="-32" font-size="53">3</tspan></text>
<text transform="translate(302.55 1243.7) scale(0.9830 1.0037)">0.0</text>
<text transform="translate(375.77 1305.99) scale(0.9777 1.0111)">0.0</text>
<text transform="translate(736.36 1305.99) scale(0.9787 1.0111)">0.5</text>
<text transform="translate(1098.13 1305.99) scale(0.9811 1.0111)">1.0</text>
<text transform="translate(1457.33 1305.99) scale(0.9956 1.0111)">1.5</text>
<text transform="translate(1817.4 1305.99) scale(0.9989 1.0111)">2.0</text>
<text transform="translate(850.71 1466.9) scale(1.0447 0.9800)">Frequency (<tspan font-style="italic">MHz</tspan>)</text>
<text transform="translate(504.43 674.07) scale(0.9947 1.0278)">S0</text>
<text transform="translate(788 670.8) scale(0.9957 1.0283)">A1</text>
<text transform="translate(578.89 1104.48) scale(1.0096 1.0222)">A0</text>
<text transform="translate(1138.15 659.28) scale(0.9493 1.0204)">S1</text>
<text transform="translate(1320.57 655.3) scale(1.0304 1.0170)">A2</text>
<text transform="translate(1764.83 647.86) scale(0.9933 1.0370)">S2</text>
<text transform="translate(83.4 966.3) rotate(-90)"><tspan x="-2.11" y="0" textLength="497.65" lengthAdjust="spacingAndGlyphs">Phase Velocity</tspan><tspan> </tspan><tspan x="517.02" y="0" textLength="18.98" lengthAdjust="spacingAndGlyphs" font-size="61.6">(</tspan><tspan x="536.33" y="0" textLength="118.63" lengthAdjust="spacingAndGlyphs" font-style="italic">m·s</tspan><tspan x="652.75" y="-26.6" textLength="48.08" lengthAdjust="spacingAndGlyphs" font-size="54" font-style="italic">−1</tspan><tspan x="696.65" y="0" textLength="24.11" lengthAdjust="spacingAndGlyphs" font-size="61.6">)</tspan></text>
<text transform="translate(0 461)"><tspan x="490.66" y="0" textLength="94.57" lengthAdjust="spacingAndGlyphs">0.5</tspan><tspan x="587.06" y="0" textLength="164.88" lengthAdjust="spacingAndGlyphs" font-style="italic">MHz</tspan></text>
<text transform="translate(0 438.4)"><tspan x="1180.69" y="0" textLength="98.78" lengthAdjust="spacingAndGlyphs">1.0</tspan><tspan x="1281.56" y="0" textLength="164.78" lengthAdjust="spacingAndGlyphs" font-style="italic">MHz</tspan></text>
</g>
</svg>
</body>
</html>
